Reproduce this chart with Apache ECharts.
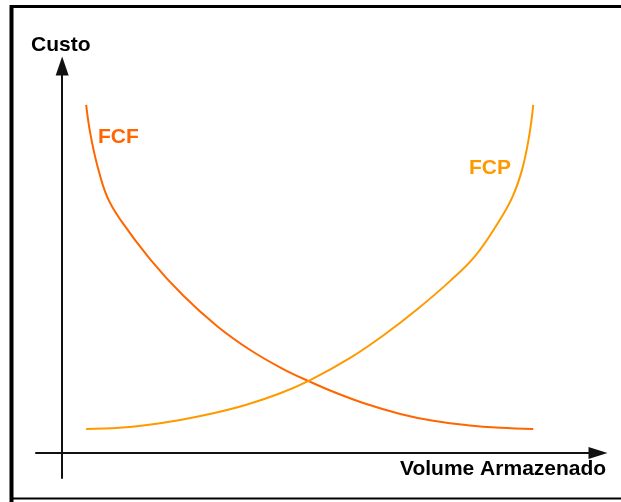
<!DOCTYPE html>
<html>
<head>
<meta charset="utf-8">
<title>Custo x Volume Armazenado</title>
<script src="https://cdn.jsdelivr.net/npm/echarts@6/dist/echarts.min.js"></script>
<style>
  html, body { margin: 0; padding: 0; background: #fff; }
  #chart { width: 621px; height: 502px; }
</style>
</head>
<body>
<div id="chart"></div>
<script>
// curve readings (x = volume, y = cost)
var fcfX = [4.40, 5.14, 6.42, 8.26, 10.83, 16.15, 22.20, 28.44, 34.50, 40.55, 45.50, 49.72, 55.96, 62.02, 68.07, 74.31, 80.37, 86.42];
var fcfY = [87.88, 80.81, 72.73, 64.65, 58.59, 48.91, 39.75, 32.02, 26.01, 21.19, 17.98, 15.48, 12.30, 9.87, 8.13, 7.02, 6.36, 6.06];

var fcpX = [4.40, 10.46, 15.60, 21.65, 27.71, 33.94, 40.00, 45.50, 52.84, 58.90, 65.14, 71.19, 75.78, 80.00, 82.57, 84.40, 85.69, 86.42];
var fcpY = [6.06, 6.39, 7.10, 8.36, 10.03, 12.25, 15.08, 18.41, 24.02, 29.67, 36.29, 43.46, 49.77, 58.21, 64.52, 71.67, 80.15, 87.88];

var seriesNames = ['FCF', 'FCP'];
var axisNames = ['Volume Armazenado', 'Custo'];

function pairs(xs, ys) {
  return xs.map(function (x, i) { return [x, ys[i]]; });
}

var chart = echarts.init(document.getElementById('chart'));

var fontFamily = '"Liberation Sans", Arial, sans-serif';

chart.setOption({
  animation: false,
  grid: { left: 36, right: 23, top: 66, bottom: 24 },
  xAxis: {
    type: 'value',
    min: -4.8,
    max: 98.3,
    axisLine: {
      onZero: true,
      symbol: ['none', 'triangle'],
      symbolSize: [12, 19],
      lineStyle: { color: '#111', width: 2 }
    },
    axisTick: { show: false },
    axisLabel: { show: false },
    splitLine: { show: false }
  },
  yAxis: {
    type: 'value',
    min: -6.3,
    max: 97.7,
    axisLine: {
      onZero: true,
      symbol: ['none', 'triangle'],
      symbolSize: [13, 19],
      lineStyle: { color: '#111', width: 2 }
    },
    axisTick: { show: false },
    axisLabel: { show: false },
    splitLine: { show: false }
  },
  series: [
    {
      name: seriesNames[0],
      type: 'line',
      data: pairs(fcfX, fcfY),
      smooth: 0.4,
      showSymbol: false,
      lineStyle: { color: '#ff6600', width: 2 }
    },
    {
      name: seriesNames[1],
      type: 'line',
      data: pairs(fcpX, fcpY),
      smooth: 0.4,
      showSymbol: false,
      lineStyle: { color: '#ff9900', width: 2 }
    }
  ],
  graphic: [
    // frame (left, top, bottom)
    { type: 'line', shape: { x1: 11.5, y1: 5, x2: 11.5, y2: 502 }, style: { stroke: '#000', lineWidth: 4 } },
    { type: 'line', shape: { x1: 10, y1: 6.5, x2: 621, y2: 6.5 }, style: { stroke: '#000', lineWidth: 3 } },
    { type: 'line', shape: { x1: 10, y1: 498.5, x2: 621, y2: 498.5 }, style: { stroke: '#000', lineWidth: 2 } },
    {
      type: 'text', left: 31, top: 35,
      style: { text: axisNames[1], font: 'bold 21px ' + fontFamily, fill: '#000' }
    },
    {
      type: 'text', left: 400, top: 459,
      style: { text: axisNames[0], font: 'bold 21px ' + fontFamily, fill: '#000' }
    },
    {
      type: 'text', left: 98, top: 127,
      style: { text: seriesNames[0], font: 'bold 21px ' + fontFamily, fill: '#ff6600' }
    },
    {
      type: 'text', left: 469, top: 158,
      style: { text: seriesNames[1], font: 'bold 21px ' + fontFamily, fill: '#ff9900' }
    }
  ]
});
</script>
</body>
</html>
